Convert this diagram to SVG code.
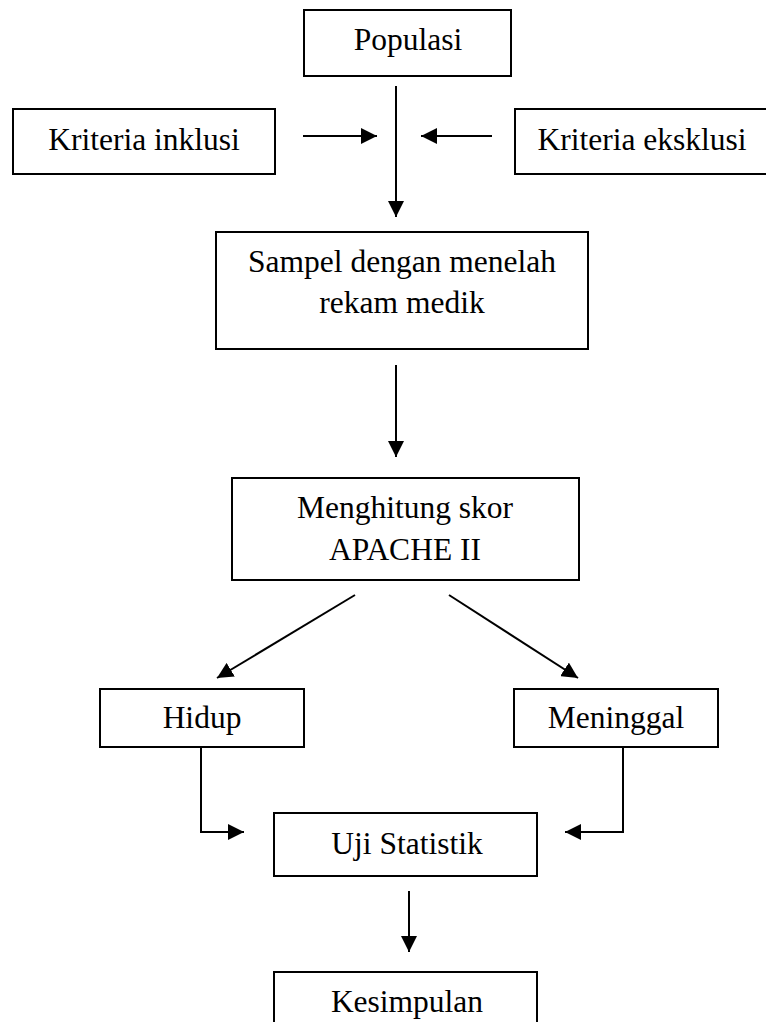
<svg xmlns="http://www.w3.org/2000/svg" width="766" height="1022" viewBox="0 0 766 1022">
<style>
.box{fill:#fff;stroke:#000;stroke-width:2}
.lbl{font-family:"Liberation Serif","Times New Roman",serif;font-size:31.5px;fill:#000;text-anchor:middle}
.con{fill:none;stroke:#000;stroke-width:2}
</style>
<defs>
<marker id="ah" markerUnits="userSpaceOnUse" markerWidth="16" markerHeight="16" refX="16" refY="8" orient="auto">
<path d="M0,0 L16,8 L0,16 z" fill="#000"/>
</marker>
</defs>
<rect width="766" height="1022" fill="#fff"/>
<g id="populasi"><rect class="box" x="304" y="10" width="207" height="66"/><text class="lbl" x="408" y="50">Populasi</text></g>
<g id="inklusi"><rect class="box" x="13" y="109" width="262" height="65"/><text class="lbl" x="144" y="150">Kriteria inklusi</text></g>
<g id="eksklusi"><rect class="box" x="515" y="109" width="260" height="65"/><text class="lbl" x="642" y="150">Kriteria eksklusi</text></g>
<g id="sampel"><rect class="box" x="216" y="232" width="372" height="117"/><text class="lbl" x="402" y="272">Sampel dengan menelah</text><text class="lbl" x="402" y="313">rekam medik</text></g>
<g id="menghitung"><rect class="box" x="232" y="478" width="347" height="102"/><text class="lbl" x="405" y="518">Menghitung skor</text><text class="lbl" x="405" y="560">APACHE II</text></g>
<g id="hidup"><rect class="box" x="100" y="689" width="204" height="58"/><text class="lbl" x="202" y="728">Hidup</text></g>
<g id="meninggal"><rect class="box" x="514" y="689" width="204" height="58"/><text class="lbl" x="616" y="728">Meninggal</text></g>
<g id="uji"><rect class="box" x="274" y="813" width="263" height="63"/><text class="lbl" x="407" y="854">Uji Statistik</text></g>
<g id="kesimpulan"><rect class="box" x="274" y="972" width="263" height="60"/><text class="lbl" x="407" y="1012">Kesimpulan</text></g>
<g id="connectors">
<line class="con" x1="396" y1="86" x2="396" y2="217" marker-end="url(#ah)"/>
<line class="con" x1="303" y1="136" x2="377" y2="136" marker-end="url(#ah)"/>
<line class="con" x1="492" y1="136" x2="421" y2="136" marker-end="url(#ah)"/>
<line class="con" x1="396" y1="365" x2="396" y2="457" marker-end="url(#ah)"/>
<line class="con" x1="355" y1="595" x2="217" y2="678" marker-end="url(#ah)"/>
<line class="con" x1="449" y1="595" x2="578" y2="678" marker-end="url(#ah)"/>
<path class="con" d="M158,747 L201,747 L201,832 L244,832" marker-end="url(#ah)"/>
<path class="con" d="M623,747 L623,832 L565,832" marker-end="url(#ah)"/>
<line class="con" x1="409" y1="891" x2="409" y2="952" marker-end="url(#ah)"/>
</g>
</svg>
